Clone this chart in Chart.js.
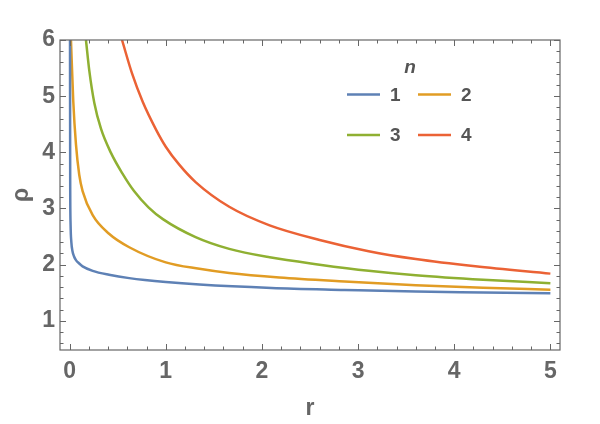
<!DOCTYPE html>
<html><head><meta charset="utf-8">
<script src="https://cdn.jsdelivr.net/npm/chart.js@4/dist/chart.umd.min.js"></script>
<style>html,body{margin:0;padding:0;background:#fff}#wrap{width:600px;height:424px}</style>
</head><body><div id="wrap"><canvas id="c" width="600" height="424"></canvas></div>
<script>
// ---- data ----
const seriesNames = ['1', '2', '3', '4'];
const legendTitle = 'n';
const xTitle = 'r';
const yTitle = 'ρ';

const r1   = [0.004, 0.006, 0.01, 0.018, 0.03, 0.045, 0.066, 0.1, 0.135, 0.24, 0.41, 0.62, 1.0, 1.35, 2.1, 2.86, 3.6, 4.3, 5.0];
const rho1 = [6.0,   3.5,   2.72, 2.40,  2.24, 2.15,  2.08,  2.02, 1.97, 1.89, 1.82, 1.76, 1.69, 1.645, 1.585, 1.55, 1.52, 1.505, 1.49];

const r2   = [0.014, 0.038, 0.066, 0.1, 0.135, 0.24, 0.41, 0.62, 1.0, 1.35, 1.66, 2.18, 2.86, 3.6, 4.3, 5.0];
const rho2 = [6.0,   4.91,  4.14,  3.60, 3.31, 2.88, 2.55, 2.31, 2.04, 1.925, 1.85, 1.77, 1.70, 1.635, 1.59, 1.555];

const r3   = [0.17, 0.205, 0.257, 0.326, 0.43, 0.55, 0.67, 0.82, 0.97, 1.31, 1.66, 2.08, 2.6, 3.11, 3.6, 4.3, 5.0];
const rho3 = [6.0,  5.45,  4.88,  4.42,  3.99, 3.62, 3.31, 3.02, 2.81, 2.49, 2.28, 2.13, 2.0, 1.89, 1.81, 1.73, 1.67];

const r4   = [0.545, 0.65, 0.76, 0.9, 1.0, 1.14, 1.31, 1.66, 2.08, 2.6, 3.11, 3.6, 4.22, 5.0];
const rho4 = [6.0,   5.40, 4.90, 4.40, 4.10, 3.78, 3.47, 3.03, 2.70, 2.44, 2.24, 2.10, 1.97, 1.84];

const xTicks = [0, 1, 2, 3, 4, 5];
const yTicks = [1, 2, 3, 4, 5, 6];
const xRange = [-0.1, 5.1];
const yRange = [0.48, 6];

// ---- styles ----
const colors = ['#5E81B5', '#E19C24', '#8FB032', '#EB6235'];
const axisGray = '#666666';
const labelFont = {family: 'Liberation Sans, Arial, sans-serif', size: 23, weight: 'bold'};

const rs = [r1, r2, r3, r4];
const rhos = [rho1, rho2, rho3, rho4];

const datasets = seriesNames.map((name, i) => ({
  label: name,
  data: rs[i].map((x, k) => ({x: x, y: rhos[i][k]})),
  borderColor: colors[i],
  backgroundColor: colors[i],
  borderWidth: 2.5,
  pointRadius: 0,
  showLine: true,
  fill: false,
  cubicInterpolationMode: 'monotone',
  clip: 0
}));

const framePlugin = {
  id: 'frame',
  afterDraw(chart) {
    const {ctx, chartArea: a} = chart;
    const xs = chart.scales.x, ys = chart.scales.y;
    ctx.save();
    ctx.strokeStyle = axisGray;
    ctx.lineWidth = 1.2;
    ctx.strokeRect(a.left, a.top, a.right - a.left, a.bottom - a.top);
    ctx.lineWidth = 1;
    ctx.beginPath();
    for (let k = 0; k <= 25; k++) {
      const v = k * 0.2;
      const px = Math.round(xs.getPixelForValue(v)) + 0.5;
      const len = (k % 5 === 0) ? 6 : 3.5;
      ctx.moveTo(px, a.bottom); ctx.lineTo(px, a.bottom - len);
      ctx.moveTo(px, a.top); ctx.lineTo(px, a.top + len);
    }
    for (let k = 3; k <= 30; k++) {
      const v = k * 0.2;
      const py = Math.round(ys.getPixelForValue(v)) + 0.5;
      const len = (k % 5 === 0) ? 6 : 3.5;
      ctx.moveTo(a.left, py); ctx.lineTo(a.left + len, py);
      ctx.moveTo(a.right, py); ctx.lineTo(a.right - len, py);
    }
    ctx.stroke();

    // legend
    const lx = [347, 418];
    const ly = [94.5, 135];
    ctx.fillStyle = '#555555';
    ctx.font = 'italic bold 19px Liberation Sans, Arial, sans-serif';
    ctx.textAlign = 'center';
    ctx.textBaseline = 'alphabetic';
    ctx.fillText(legendTitle, 410, 73);
    ctx.font = 'bold 19px Liberation Sans, Arial, sans-serif';
    ctx.textAlign = 'left';
    ctx.textBaseline = 'middle';
    seriesNames.forEach((name, i) => {
      const x0 = lx[i % 2], y0 = ly[Math.floor(i / 2)];
      ctx.strokeStyle = colors[i];
      ctx.lineWidth = 2.5;
      ctx.beginPath();
      ctx.moveTo(x0, y0); ctx.lineTo(x0 + 33, y0);
      ctx.stroke();
      ctx.fillStyle = '#555555';
      ctx.fillText(name, x0 + 43, y0 + 1);
    });
    ctx.restore();
  }
};

new Chart(document.getElementById('c'), {
  type: 'scatter',
  data: {datasets},
  plugins: [framePlugin],
  options: {
    responsive: false,
    animation: false,
    devicePixelRatio: 1,
    layout: {padding: {top: 40, right: 40, left: 0, bottom: 0}},
    plugins: {legend: {display: false}, tooltip: {enabled: false}},
    scales: {
      x: {
        type: 'linear', min: xRange[0], max: xRange[1],
        afterBuildTicks: s => { s.ticks = xTicks.map(v => ({value: v})); },
        afterFit: s => { s.height = 74; },
        grid: {display: false, drawTicks: false},
        border: {display: false},
        ticks: {font: labelFont, color: axisGray, padding: 8, maxRotation: 0, autoSkip: false},
        title: {display: true, text: xTitle, font: labelFont, color: axisGray, padding: {top: 0, bottom: 2}}
      },
      y: {
        type: 'linear', min: yRange[0], max: yRange[1],
        afterBuildTicks: s => { s.ticks = yTicks.map(v => ({value: v})); },
        afterFit: s => { s.width = 60; },
        grid: {display: false, drawTicks: false},
        border: {display: false},
        ticks: {font: labelFont, color: axisGray, padding: 5, autoSkip: false},
        title: {display: true, text: yTitle, font: labelFont, color: axisGray, padding: {top: 8, bottom: 0}}
      }
    }
  }
});
</script>
</body></html>
